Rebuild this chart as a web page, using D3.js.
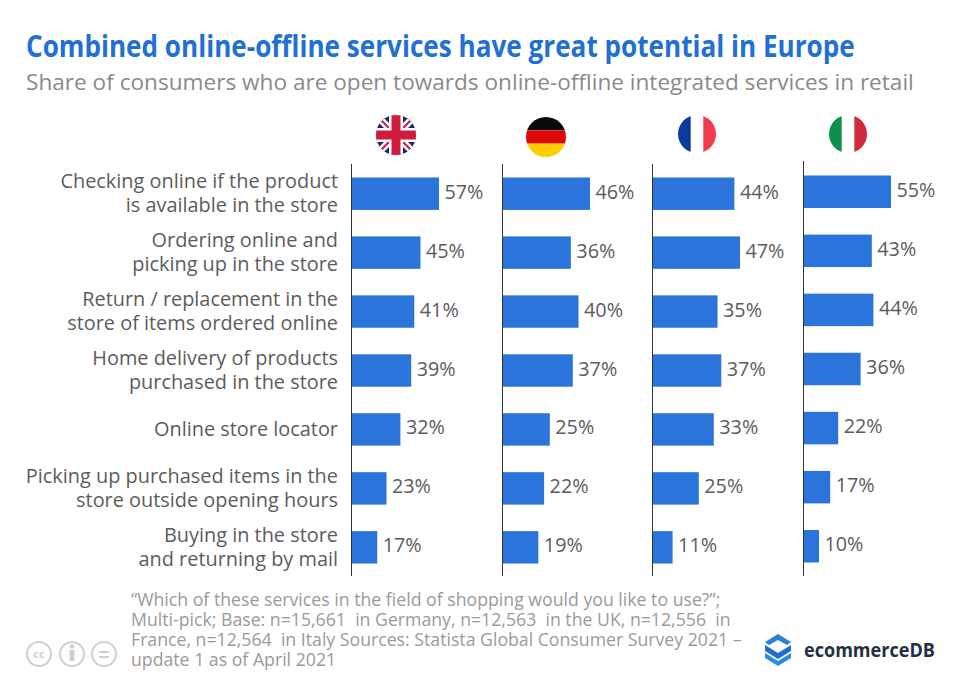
<!DOCTYPE html>
<html><head><meta charset="utf-8">
<script src="https://cdn.jsdelivr.net/npm/d3@7/dist/d3.min.js"></script>
<style>html,body{margin:0;padding:0;background:#fff}svg{display:block}text{font-family:"Open Sans",sans-serif}</style>
</head><body><svg id="c" width="960" height="684"></svg>
<script>
const titleText="Combined online-offline services have great potential in Europe";
const subtitleText="Share of consumers who are open towards online-offline integrated services in retail";
const categories=[["Checking online if the product","is available in the store"],["Ordering online and","picking up in the store"],["Return / replacement in the","store of items ordered online"],["Home delivery of products","purchased in the store"],["Online store locator"],["Picking up purchased items in the","store outside opening hours"],["Buying in the store","and returning by mail"]];
const uk=[57,45,41,39,32,23,17];
const germany=[46,36,40,37,25,22,19];
const france=[44,47,35,37,33,25,11];
const italy=[55,43,44,36,22,17,10];
const footnote=["“Which of these services in the field of shopping would you like to use?”;","Multi-pick; Base: n=15,661  in Germany, n=12,563  in the UK, n=12,556  in","France, n=12,564  in Italy Sources: Statista Global Consumer Survey 2021 –","update 1 as of April 2021"];
const brand="ecommerceDB";

const svg=d3.select("#c");
const BLUE="#2b74dc",GREY="#5c5c5c";
function fit(sel,x,y,w){
  const n=sel.node().getComputedTextLength();
  sel.attr("transform",`translate(${x},${y}) scale(${w/n},1)`);
}
fit(svg.append("text").attr("font-size",31).attr("font-weight",700).attr("fill","#2170d2").text(titleText),26,57,829);
fit(svg.append("text").attr("font-size",22.5).attr("fill","#8a8a8a").text(subtitleText),26,90,888);

const y=d3.scaleBand().domain(d3.range(7)).range([164.5,576.5]).paddingInner(0.45).paddingOuter(0.22);
const yIt=d3.scaleBand().domain(d3.range(7)).range([162.5,575.5]).paddingInner(0.45).paddingOuter(0.22);
const panels=[
 {vals:uk,x0:351,top:164,y:y},
 {vals:germany,x0:502,top:164,y:y},
 {vals:france,x0:652,top:164,y:y},
 {vals:italy,x0:803,top:161,y:yIt}];

const lab=svg.append("g");
categories.forEach((ls,i)=>{
  const cy=y(i)+y.bandwidth()/2;
  const t=lab.append("text").attr("text-anchor","end").attr("font-size",19.9).attr("fill",GREY);
  ls.forEach((l,j)=>{
    t.append("tspan").attr("x",338).attr("y",cy+(j-(ls.length-1)/2)*24+6.5).text(l);
  });
});

panels.forEach(p=>{
  const x=d3.scaleLinear().domain([0,d3.max(p.vals)]).range([p.x0,p.x0+88]);
  const g=svg.append("g");
  g.selectAll("rect").data(p.vals).join("rect")
    .attr("x",x(0)).attr("y",(d,i)=>p.y(i)).attr("height",p.y.bandwidth())
    .attr("width",d=>x(d)-x(0)).attr("fill",BLUE);
  g.append("line").attr("x1",p.x0+.5).attr("x2",p.x0+.5).attr("y1",p.top).attr("y2",576).attr("stroke","#333").attr("stroke-width",1);
  g.selectAll("text").data(p.vals).join("text")
    .attr("x",d=>x(d)+5.5).attr("y",(d,i)=>p.y(i)+p.y.bandwidth()/2+5)
    .attr("font-size",19.8).attr("fill",GREY).text(d=>d+"%");
});

function flag(id,cx,cy,r,draw){
  const cp=svg.append("clipPath").attr("id",id);
  cp.append("circle").attr("cx",cx).attr("cy",cy).attr("r",r);
  const g=svg.append("g").attr("clip-path",`url(#${id})`);
  draw(g,cx-r,cy-r,2*r);
}
const R=(g,x,y,w,h,c)=>g.append("rect").attr("x",x).attr("y",y).attr("width",w).attr("height",h).attr("fill",c);
flag("fuk",396,135,20,(g,x,y,s)=>{
  R(g,x,y,s,s,"#12296b");
  const l=(a,b,c,d,col,w)=>g.append("line").attr("x1",a).attr("y1",b).attr("x2",c).attr("y2",d).attr("stroke",col).attr("stroke-width",w);
  l(x,y,x+s,y+s,"#fff",7);l(x+s,y,x,y+s,"#fff",7);
  l(x,y,x+s,y+s,"#cf1b3c",2);l(x+s,y,x,y+s,"#cf1b3c",2);
  R(g,x+s/2-7,y,14,s,"#fff");R(g,x,y+s/2-7,s,14,"#fff");
  R(g,x+s/2-4.5,y,9,s,"#cf1b3c");R(g,x,y+s/2-4.5,s,9,"#cf1b3c");
});
flag("fde",546,137,20,(g,x,y,s)=>{R(g,x,y,s,s/3,"#0a0a0a");R(g,x,y+s/3,s,s/3,"#dd0a0a");R(g,x,y+2*s/3,s,s/3,"#ffce00");});
flag("ffr",697,134,19,(g,x,y,s)=>{R(g,x,y,s/3,s,"#0b3a9c");R(g,x+2*s/3,y,s/3,s,"#ef3b4b");});
flag("fit",848,134,19,(g,x,y,s)=>{R(g,x,y,s/3,s,"#0f8f4d");R(g,x+2*s/3,y,s/3,s,"#cf2b3c");});

const fn=svg.append("text").attr("font-size",17.7).attr("fill","#9a9a9a").style("white-space","pre");
footnote.forEach((t,i)=>{
  fn.append("tspan").attr("x",131).attr("y",606+i*20).text(t);
});

const ic=svg.append("g").attr("fill","none").attr("stroke","#cfcfcf").attr("stroke-width",2);
[39,72,104].forEach(cx=>ic.append("circle").attr("cx",cx).attr("cy",654).attr("r",12));
svg.append("text").attr("x",39).attr("y",658).attr("text-anchor","middle").attr("font-size",11).attr("font-weight",700).attr("fill","#cfcfcf").text("cc");
svg.append("circle").attr("cx",72).attr("cy",646.5).attr("r",2.2).attr("fill","#cfcfcf");
R(svg,69.5,650,5,11,"#cfcfcf");
R(svg,99,651,10,2,"#cfcfcf");R(svg,99,656,10,2,"#cfcfcf");

const lg=svg.append("g");
lg.append("path").attr("d","M765 642 L778 634 L791 642 L787 645 L778 640 L769 645 Z").attr("fill","#2e7fd6");
lg.append("path").attr("d","M765 645 L778 653 L791 645 L791 651 L778 659 L765 651 Z").attr("fill","#1f6fd0");
lg.append("path").attr("d","M765 653 L778 661 L791 653 L791 658 L778 666 L765 658 Z").attr("fill","#2f8be0");
fit(svg.append("text").attr("font-size",19).attr("font-weight",700).attr("fill","#22303f").text(brand),804,657,131);
</script></body></html>
